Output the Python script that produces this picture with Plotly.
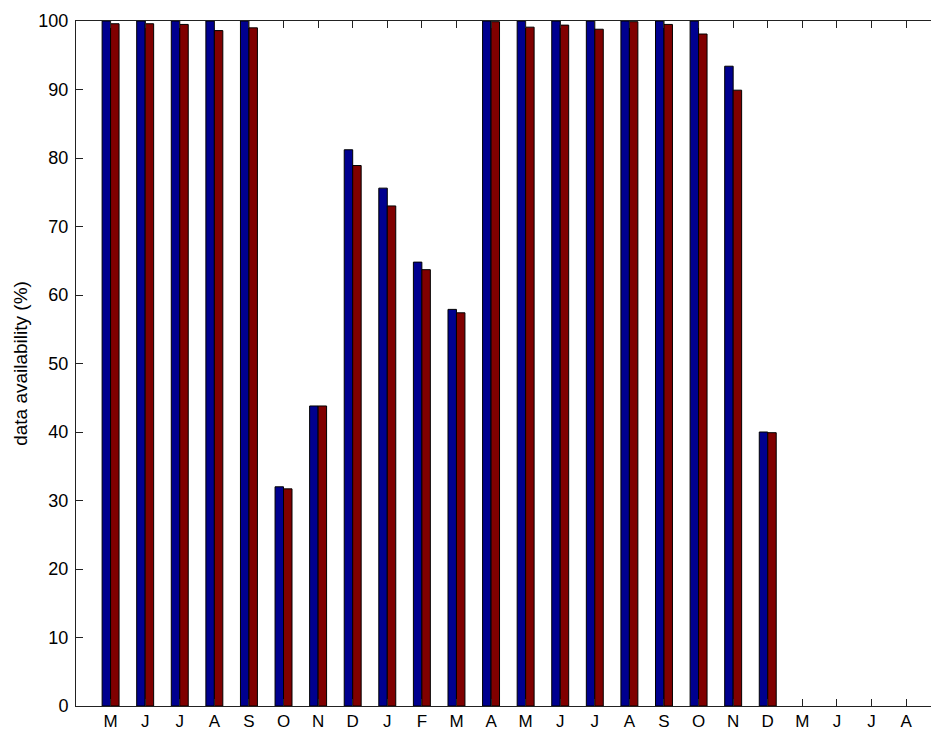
import plotly.graph_objects as go

months = ["M", "J", "J", "A", "S", "O", "N", "D", "J", "F", "M", "A",
          "M", "J", "J", "A", "S", "O", "N", "D", "M", "J", "J", "A"]
series_a = [100, 100, 100, 100, 100, 32.0, 43.8, 81.2, 75.6, 64.8, 57.9, 100,
            100, 100, 100, 100, 100, 100, 93.4, 40.0, None, None, None, None]
series_b = [99.6, 99.6, 99.5, 98.6, 99.0, 31.7, 43.8, 78.9, 73.0, 63.7, 57.4, 99.9,
            99.1, 99.4, 98.8, 99.9, 99.5, 98.1, 89.9, 39.9, None, None, None, None]
yticks = list(range(0, 101, 10))

xpos = list(range(1, len(months) + 1))

fig = go.Figure()
fig.add_trace(go.Bar(x=xpos, y=series_a, marker=dict(color="rgb(0,0,143)",
                     line=dict(color="black", width=1)), name="a"))
fig.add_trace(go.Bar(x=xpos, y=series_b, marker=dict(color="rgb(128,0,0)",
                     line=dict(color="black", width=1)), name="b"))

font = "Liberation Sans, Arial, Helvetica, sans-serif"
fig.update_layout(
    width=931, height=730,
    margin=dict(l=76, r=0, t=21, b=24, pad=0),
    paper_bgcolor="white", plot_bgcolor="white",
    barmode="group", bargap=0.51, bargroupgap=0.0,
    showlegend=False,
    font=dict(family=font, size=18, color="black"),
    xaxis=dict(range=[0, 24.72], tickvals=xpos, ticktext=months,
               ticks="inside", ticklen=7, tickcolor="#222", tickwidth=1,
               showline=True, linecolor="#222", linewidth=1, mirror="ticks",
               showgrid=False, zeroline=False, tickfont=dict(size=17),
               automargin=False),
    yaxis=dict(range=[0, 100], tickvals=yticks,
               ticks="inside", ticklen=7, tickcolor="#222", tickwidth=1,
               showline=True, linecolor="#222", linewidth=1, mirror=False,
               showgrid=False, zeroline=False, tickfont=dict(size=18),
               automargin=False, ticklabelstandoff=3,
               title=dict(text="data availability (%)", font=dict(size=19), standoff=5)),
)
fig.write_html("out.html", config={"displayModeBar": False},
               post_script="document.body.style.margin='0';document.body.style.overflow='hidden';")
